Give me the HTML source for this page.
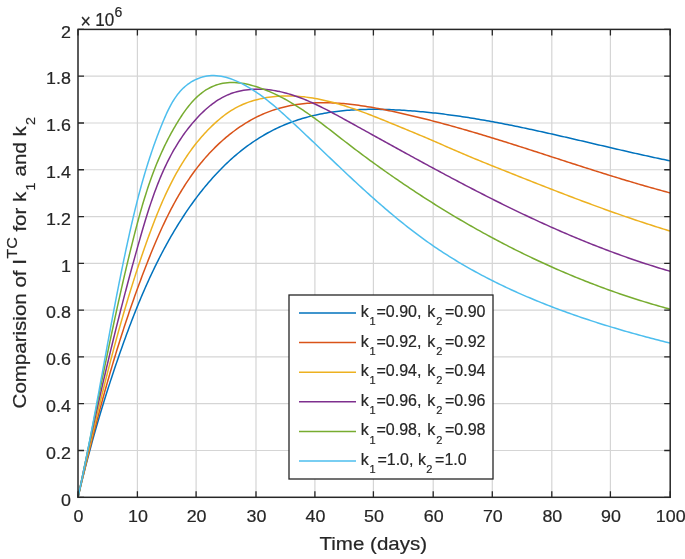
<!DOCTYPE html>
<html><head><meta charset="utf-8"><title>Comparision of I^TC</title>
<style>html,body{margin:0;padding:0;background:#fff;}svg{display:block;filter:blur(0.3px);}</style>
</head><body><svg width="685" height="559" viewBox="0 0 685 559" font-family='"Liberation Sans", Arial, Helvetica, sans-serif' fill="#262626"><style>text{stroke:#262626;stroke-width:0.2px;}</style><rect x="0" y="0" width="685" height="559" fill="#fff"/><path d="M137.40,29.4V497.3 M196.10,29.4V497.3 M256.00,29.4V497.3 M314.90,29.4V497.3 M373.40,29.4V497.3 M433.20,29.4V497.3 M492.30,29.4V497.3 M551.80,29.4V497.3 M610.40,29.4V497.3 M78.0,450.51H670.2 M78.0,403.72H670.2 M78.0,356.93H670.2 M78.0,310.14H670.2 M78.0,263.35H670.2 M78.0,216.56H670.2 M78.0,169.77H670.2 M78.0,122.98H670.2 M78.0,76.19H670.2" stroke="#d5d5d5" stroke-width="1.2" fill="none"/><path d="M78.00,497.30 L78.48,495.27 L78.96,493.25 L79.44,491.22 L79.93,489.19 L80.42,487.17 L80.91,485.14 L81.41,483.11 L81.90,481.09 L82.41,479.06 L82.91,477.04 L83.42,475.01 L83.93,472.99 L84.44,470.96 L84.96,468.94 L85.48,466.91 L86.00,464.89 L86.53,462.87 L87.06,460.85 L87.59,458.82 L88.12,456.80 L88.66,454.78 L89.20,452.76 L89.74,450.74 L90.29,448.72 L90.84,446.71 L91.39,444.69 L91.95,442.67 L92.51,440.66 L93.07,438.64 L93.63,436.63 L94.20,434.61 L94.77,432.60 L95.34,430.59 L95.92,428.58 L96.49,426.57 L97.08,424.56 L97.66,422.55 L98.25,420.54 L98.84,418.54 L99.43,416.53 L100.03,414.53 L100.62,412.52 L101.23,410.52 L101.83,408.52 L102.44,406.52 L103.05,404.52 L103.66,402.53 L104.28,400.53 L104.90,398.54 L105.52,396.54 L106.14,394.55 L106.77,392.56 L107.40,390.57 L108.03,388.58 L108.67,386.60 L109.31,384.61 L109.95,382.63 L110.59,380.64 L111.24,378.66 L111.89,376.68 L112.54,374.71 L113.20,372.73 L113.85,370.76 L114.52,368.78 L115.18,366.81 L115.85,364.84 L116.52,362.88 L117.19,360.91 L117.86,358.95 L118.54,356.98 L119.22,355.02 L119.90,353.07 L120.59,351.11 L121.28,349.15 L121.97,347.20 L122.66,345.25 L123.36,343.30 L124.06,341.35 L124.76,339.41 L125.47,337.47 L126.18,335.52 L126.89,333.58 L127.60,331.65 L128.32,329.71 L129.05,327.78 L129.77,325.84 L130.51,323.91 L131.24,321.99 L131.98,320.06 L132.73,318.13 L133.47,316.21 L134.23,314.29 L134.99,312.37 L135.75,310.45 L136.52,308.53 L137.29,306.61 L138.07,304.70 L138.86,302.79 L139.65,300.88 L140.45,298.97 L141.25,297.06 L142.06,295.15 L142.87,293.24 L143.69,291.34 L144.52,289.44 L145.36,287.54 L146.20,285.63 L147.05,283.74 L147.90,281.84 L148.76,279.94 L149.63,278.05 L150.51,276.15 L151.40,274.26 L152.29,272.37 L153.19,270.48 L154.10,268.59 L155.02,266.70 L155.94,264.81 L156.87,262.92 L157.82,261.04 L158.77,259.15 L159.73,257.27 L160.69,255.39 L161.67,253.51 L162.66,251.64 L163.65,249.76 L164.65,247.89 L165.66,246.02 L166.68,244.16 L167.71,242.30 L168.75,240.44 L169.80,238.59 L170.85,236.74 L171.92,234.90 L172.99,233.06 L174.08,231.22 L175.17,229.39 L176.27,227.57 L177.39,225.75 L178.51,223.93 L179.64,222.13 L180.78,220.33 L181.93,218.53 L183.08,216.75 L184.25,214.97 L185.43,213.19 L186.62,211.43 L187.82,209.67 L189.02,207.92 L190.24,206.18 L191.47,204.45 L192.70,202.72 L193.95,201.01 L195.21,199.30 L196.47,197.60 L197.75,195.92 L199.04,194.24 L200.33,192.57 L201.64,190.92 L202.96,189.27 L204.28,187.63 L205.62,186.01 L206.97,184.40 L208.33,182.79 L209.70,181.20 L211.08,179.63 L212.47,178.06 L213.87,176.51 L215.28,174.96 L216.70,173.44 L218.13,171.92 L219.57,170.42 L221.03,168.93 L222.49,167.46 L223.97,166.00 L225.46,164.55 L226.95,163.12 L228.46,161.71 L229.98,160.30 L231.51,158.92 L233.05,157.55 L234.61,156.19 L236.17,154.85 L237.75,153.53 L239.33,152.22 L240.93,150.94 L242.54,149.66 L244.16,148.41 L245.79,147.17 L247.44,145.95 L249.09,144.74 L250.76,143.56 L252.44,142.39 L254.13,141.25 L255.83,140.12 L257.54,139.01 L259.27,137.92 L261.01,136.84 L262.75,135.79 L264.52,134.76 L266.29,133.75 L268.07,132.76 L269.87,131.79 L271.68,130.84 L273.50,129.91 L275.34,129.00 L277.18,128.12 L279.04,127.25 L280.91,126.41 L282.79,125.59 L284.68,124.79 L286.59,124.01 L288.50,123.26 L290.42,122.52 L292.36,121.81 L294.30,121.12 L296.25,120.45 L298.21,119.80 L300.18,119.17 L302.16,118.56 L304.14,117.98 L306.14,117.42 L308.14,116.87 L310.14,116.35 L312.15,115.85 L314.17,115.37 L316.20,114.92 L318.23,114.48 L320.27,114.06 L322.31,113.67 L324.35,113.29 L326.40,112.93 L328.46,112.59 L330.52,112.28 L332.59,111.97 L334.65,111.69 L336.73,111.43 L338.80,111.18 L340.88,110.95 L342.97,110.74 L345.05,110.54 L347.14,110.36 L349.24,110.19 L351.33,110.04 L353.43,109.91 L355.53,109.79 L357.63,109.68 L359.74,109.59 L361.84,109.52 L363.95,109.45 L366.06,109.40 L368.17,109.36 L370.28,109.34 L372.39,109.32 L374.50,109.32 L376.61,109.33 L378.73,109.35 L380.84,109.38 L382.95,109.43 L385.06,109.48 L387.18,109.54 L389.29,109.61 L391.40,109.69 L393.50,109.78 L395.61,109.88 L397.72,109.99 L399.82,110.10 L401.92,110.22 L404.03,110.35 L406.12,110.49 L408.22,110.63 L410.32,110.78 L412.41,110.94 L414.50,111.10 L416.59,111.27 L418.68,111.45 L420.77,111.64 L422.86,111.83 L424.94,112.03 L427.02,112.24 L429.10,112.45 L431.18,112.67 L433.26,112.89 L435.34,113.12 L437.41,113.36 L439.49,113.60 L441.56,113.85 L443.63,114.11 L445.70,114.37 L447.77,114.64 L449.84,114.91 L451.90,115.19 L453.97,115.47 L456.03,115.76 L458.09,116.06 L460.16,116.36 L462.22,116.66 L464.27,116.97 L466.33,117.29 L468.39,117.61 L470.44,117.94 L472.50,118.27 L474.55,118.60 L476.60,118.94 L478.66,119.29 L480.71,119.64 L482.76,119.99 L484.81,120.35 L486.85,120.71 L488.90,121.08 L490.95,121.45 L492.99,121.82 L495.04,122.20 L497.08,122.58 L499.12,122.97 L501.16,123.36 L503.21,123.75 L505.25,124.15 L507.29,124.55 L509.33,124.96 L511.37,125.36 L513.40,125.77 L515.44,126.19 L517.48,126.60 L519.51,127.02 L521.55,127.45 L523.59,127.87 L525.62,128.30 L527.65,128.73 L529.69,129.17 L531.72,129.60 L533.76,130.04 L535.79,130.48 L537.82,130.93 L539.85,131.37 L541.88,131.82 L543.92,132.27 L545.95,132.72 L547.98,133.18 L550.01,133.63 L552.04,134.09 L554.07,134.55 L556.10,135.01 L558.13,135.47 L560.16,135.93 L562.19,136.40 L564.22,136.86 L566.25,137.33 L568.28,137.80 L570.31,138.27 L572.34,138.74 L574.37,139.21 L576.40,139.68 L578.43,140.16 L580.46,140.63 L582.49,141.10 L584.52,141.58 L586.55,142.05 L588.58,142.53 L590.61,143.00 L592.64,143.48 L594.67,143.95 L596.70,144.43 L598.74,144.90 L600.77,145.38 L602.80,145.85 L604.83,146.33 L606.87,146.80 L608.90,147.28 L610.93,147.75 L612.97,148.22 L615.00,148.69 L617.04,149.17 L619.08,149.64 L621.11,150.11 L623.15,150.57 L625.19,151.04 L627.22,151.51 L629.26,151.97 L631.30,152.43 L633.34,152.90 L635.38,153.36 L637.43,153.81 L639.47,154.27 L641.51,154.73 L643.55,155.18 L645.60,155.63 L647.64,156.08 L649.69,156.53 L651.74,156.97 L653.79,157.42 L655.84,157.86 L657.89,158.29 L659.94,158.73 L661.99,159.16 L664.04,159.59 L666.09,160.02 L668.15,160.45 L670.20,160.87" stroke="#0072BD" stroke-width="1.5" fill="none" stroke-linejoin="round"/><path d="M78.00,497.30 L78.50,495.17 L79.00,493.04 L79.51,490.92 L80.01,488.79 L80.52,486.67 L81.02,484.55 L81.53,482.43 L82.03,480.31 L82.54,478.19 L83.05,476.08 L83.56,473.97 L84.07,471.86 L84.58,469.74 L85.09,467.64 L85.61,465.53 L86.12,463.42 L86.63,461.32 L87.15,459.22 L87.67,457.12 L88.19,455.02 L88.71,452.92 L89.23,450.82 L89.75,448.73 L90.27,446.63 L90.80,444.54 L91.33,442.45 L91.85,440.36 L92.38,438.27 L92.91,436.18 L93.45,434.10 L93.98,432.01 L94.52,429.93 L95.05,427.85 L95.59,425.77 L96.13,423.69 L96.68,421.61 L97.22,419.53 L97.77,417.45 L98.32,415.38 L98.87,413.31 L99.42,411.23 L99.97,409.16 L100.53,407.09 L101.09,405.02 L101.65,402.96 L102.21,400.89 L102.77,398.82 L103.34,396.76 L103.91,394.70 L104.48,392.63 L105.06,390.57 L105.63,388.51 L106.21,386.45 L106.79,384.39 L107.37,382.34 L107.96,380.28 L108.55,378.22 L109.14,376.17 L109.73,374.11 L110.33,372.06 L110.93,370.01 L111.53,367.96 L112.13,365.91 L112.74,363.86 L113.35,361.81 L113.96,359.76 L114.58,357.72 L115.20,355.67 L115.82,353.62 L116.45,351.58 L117.07,349.54 L117.70,347.49 L118.34,345.45 L118.97,343.41 L119.61,341.37 L120.26,339.33 L120.91,337.29 L121.56,335.25 L122.21,333.21 L122.87,331.17 L123.53,329.14 L124.19,327.10 L124.86,325.06 L125.53,323.03 L126.20,320.99 L126.88,318.96 L127.56,316.93 L128.25,314.89 L128.93,312.86 L129.63,310.83 L130.32,308.80 L131.02,306.76 L131.73,304.73 L132.43,302.70 L133.15,300.67 L133.86,298.64 L134.58,296.62 L135.30,294.59 L136.03,292.56 L136.76,290.53 L137.50,288.50 L138.24,286.48 L138.98,284.45 L139.73,282.42 L140.49,280.40 L141.24,278.37 L142.01,276.34 L142.77,274.32 L143.54,272.29 L144.32,270.27 L145.10,268.24 L145.88,266.22 L146.67,264.19 L147.46,262.17 L148.26,260.14 L149.06,258.12 L149.87,256.10 L150.68,254.08 L151.50,252.06 L152.33,250.04 L153.16,248.02 L154.00,246.01 L154.84,244.00 L155.69,241.99 L156.55,239.98 L157.42,237.98 L158.29,235.98 L159.17,233.98 L160.06,231.99 L160.96,230.00 L161.86,228.02 L162.78,226.04 L163.70,224.06 L164.63,222.09 L165.58,220.13 L166.53,218.17 L167.49,216.22 L168.46,214.27 L169.44,212.33 L170.43,210.40 L171.44,208.47 L172.45,206.55 L173.48,204.64 L174.51,202.74 L175.56,200.84 L176.62,198.96 L177.69,197.08 L178.78,195.21 L179.88,193.34 L180.99,191.49 L182.11,189.65 L183.25,187.82 L184.40,185.99 L185.56,184.18 L186.74,182.38 L187.93,180.58 L189.14,178.80 L190.36,177.03 L191.59,175.28 L192.84,173.53 L194.11,171.79 L195.39,170.07 L196.69,168.36 L198.00,166.66 L199.33,164.98 L200.68,163.31 L202.04,161.65 L203.43,160.01 L204.82,158.38 L206.24,156.76 L207.67,155.16 L209.12,153.58 L210.59,152.00 L212.08,150.45 L213.58,148.91 L215.11,147.38 L216.65,145.87 L218.21,144.38 L219.79,142.91 L221.40,141.45 L223.02,140.01 L224.65,138.58 L226.31,137.18 L227.98,135.80 L229.68,134.43 L231.38,133.09 L233.11,131.77 L234.85,130.48 L236.60,129.20 L238.38,127.96 L240.16,126.73 L241.96,125.53 L243.78,124.36 L245.61,123.22 L247.45,122.10 L249.31,121.01 L251.17,119.95 L253.05,118.92 L254.94,117.92 L256.85,116.95 L258.76,116.01 L260.69,115.11 L262.62,114.24 L264.57,113.40 L266.52,112.60 L268.48,111.83 L270.46,111.10 L272.44,110.40 L274.43,109.74 L276.43,109.10 L278.43,108.51 L280.44,107.94 L282.47,107.41 L284.50,106.90 L286.53,106.43 L288.58,105.99 L290.63,105.58 L292.68,105.20 L294.75,104.85 L296.82,104.52 L298.89,104.23 L300.97,103.96 L303.06,103.72 L305.16,103.50 L307.25,103.31 L309.36,103.15 L311.47,103.01 L313.58,102.90 L315.70,102.81 L317.82,102.74 L319.95,102.70 L322.08,102.68 L324.21,102.68 L326.35,102.71 L328.49,102.75 L330.64,102.82 L332.78,102.90 L334.93,103.01 L337.09,103.13 L339.24,103.28 L341.40,103.44 L343.56,103.62 L345.72,103.82 L347.88,104.03 L350.05,104.26 L352.21,104.51 L354.38,104.77 L356.55,105.05 L358.71,105.34 L360.88,105.64 L363.05,105.96 L365.22,106.29 L367.39,106.64 L369.56,106.99 L371.72,107.36 L373.89,107.74 L376.06,108.13 L378.22,108.53 L380.38,108.94 L382.55,109.36 L384.71,109.78 L386.86,110.22 L389.02,110.66 L391.17,111.11 L393.32,111.57 L395.47,112.03 L397.62,112.50 L399.76,112.97 L401.90,113.45 L404.04,113.93 L406.17,114.42 L408.30,114.91 L410.42,115.40 L412.55,115.91 L414.67,116.41 L416.79,116.92 L418.90,117.44 L421.01,117.95 L423.12,118.48 L425.23,119.00 L427.33,119.53 L429.43,120.07 L431.53,120.61 L433.63,121.15 L435.72,121.70 L437.81,122.25 L439.90,122.80 L441.99,123.36 L444.07,123.92 L446.15,124.48 L448.23,125.05 L450.31,125.62 L452.39,126.20 L454.46,126.78 L456.53,127.36 L458.60,127.94 L460.67,128.53 L462.73,129.12 L464.80,129.71 L466.86,130.31 L468.92,130.91 L470.98,131.51 L473.04,132.11 L475.09,132.72 L477.15,133.33 L479.20,133.94 L481.25,134.56 L483.30,135.17 L485.35,135.79 L487.39,136.41 L489.44,137.04 L491.49,137.66 L493.53,138.29 L495.57,138.92 L497.61,139.55 L499.65,140.18 L501.69,140.82 L503.73,141.45 L505.77,142.09 L507.80,142.73 L509.84,143.37 L511.88,144.02 L513.91,144.66 L515.94,145.31 L517.98,145.95 L520.01,146.60 L522.04,147.25 L524.07,147.90 L526.11,148.55 L528.14,149.21 L530.17,149.86 L532.20,150.51 L534.23,151.17 L536.26,151.82 L538.29,152.48 L540.32,153.14 L542.35,153.79 L544.38,154.45 L546.41,155.11 L548.44,155.77 L550.47,156.43 L552.50,157.09 L554.53,157.75 L556.57,158.41 L558.60,159.06 L560.63,159.72 L562.66,160.38 L564.70,161.04 L566.73,161.70 L568.77,162.36 L570.80,163.02 L572.84,163.67 L574.87,164.33 L576.91,164.99 L578.95,165.64 L580.99,166.30 L583.03,166.95 L585.07,167.61 L587.11,168.26 L589.16,168.91 L591.20,169.56 L593.25,170.21 L595.29,170.86 L597.34,171.51 L599.39,172.15 L601.44,172.80 L603.49,173.44 L605.55,174.09 L607.60,174.73 L609.66,175.36 L611.72,176.00 L613.78,176.64 L615.84,177.27 L617.90,177.90 L619.97,178.53 L622.04,179.16 L624.11,179.79 L626.18,180.41 L628.25,181.03 L630.33,181.65 L632.40,182.27 L634.48,182.89 L636.57,183.50 L638.65,184.11 L640.74,184.72 L642.82,185.32 L644.92,185.93 L647.01,186.53 L649.11,187.12 L651.20,187.72 L653.30,188.31 L655.41,188.90 L657.52,189.48 L659.62,190.06 L661.74,190.64 L663.85,191.22 L665.97,191.79 L668.09,192.36 L670.21,192.93" stroke="#D95319" stroke-width="1.5" fill="none" stroke-linejoin="round"/><path d="M78.00,497.30 L78.51,495.10 L79.01,492.89 L79.52,490.69 L80.02,488.49 L80.53,486.29 L81.03,484.09 L81.53,481.90 L82.04,479.70 L82.54,477.50 L83.04,475.31 L83.55,473.12 L84.05,470.93 L84.55,468.74 L85.05,466.55 L85.56,464.36 L86.06,462.17 L86.56,459.98 L87.07,457.80 L87.57,455.61 L88.08,453.43 L88.58,451.25 L89.08,449.07 L89.59,446.89 L90.10,444.71 L90.60,442.53 L91.11,440.35 L91.62,438.18 L92.12,436.00 L92.63,433.83 L93.14,431.65 L93.65,429.48 L94.16,427.31 L94.68,425.14 L95.19,422.97 L95.70,420.80 L96.22,418.63 L96.73,416.46 L97.25,414.30 L97.77,412.13 L98.29,409.97 L98.81,407.81 L99.33,405.64 L99.85,403.48 L100.38,401.32 L100.91,399.16 L101.43,397.00 L101.96,394.84 L102.49,392.68 L103.03,390.53 L103.56,388.37 L104.10,386.21 L104.63,384.06 L105.17,381.91 L105.71,379.75 L106.26,377.60 L106.80,375.45 L107.35,373.30 L107.90,371.15 L108.45,369.00 L109.00,366.85 L109.56,364.70 L110.11,362.55 L110.67,360.40 L111.24,358.26 L111.80,356.11 L112.37,353.97 L112.94,351.82 L113.51,349.68 L114.08,347.54 L114.66,345.39 L115.24,343.25 L115.82,341.11 L116.40,338.97 L116.99,336.83 L117.58,334.69 L118.18,332.55 L118.77,330.41 L119.37,328.27 L119.97,326.14 L120.58,324.00 L121.18,321.86 L121.79,319.73 L122.41,317.59 L123.03,315.46 L123.65,313.32 L124.27,311.19 L124.90,309.06 L125.53,306.92 L126.16,304.79 L126.80,302.66 L127.44,300.53 L128.08,298.40 L128.73,296.27 L129.38,294.14 L130.04,292.01 L130.70,289.88 L131.36,287.75 L132.03,285.62 L132.70,283.49 L133.37,281.36 L134.05,279.23 L134.73,277.11 L135.42,274.98 L136.11,272.85 L136.81,270.73 L137.50,268.60 L138.21,266.48 L138.92,264.35 L139.63,262.23 L140.34,260.10 L141.06,257.98 L141.79,255.85 L142.52,253.73 L143.25,251.60 L143.99,249.48 L144.73,247.36 L145.48,245.23 L146.23,243.11 L146.99,240.99 L147.75,238.87 L148.52,236.74 L149.29,234.62 L150.07,232.50 L150.86,230.39 L151.65,228.27 L152.45,226.15 L153.25,224.04 L154.06,221.93 L154.88,219.83 L155.71,217.72 L156.54,215.62 L157.39,213.53 L158.24,211.44 L159.10,209.35 L159.97,207.27 L160.85,205.20 L161.74,203.13 L162.64,201.06 L163.55,199.00 L164.48,196.95 L165.41,194.91 L166.36,192.87 L167.31,190.84 L168.28,188.82 L169.27,186.81 L170.26,184.81 L171.27,182.81 L172.29,180.83 L173.32,178.85 L174.37,176.88 L175.44,174.93 L176.51,172.98 L177.61,171.05 L178.72,169.12 L179.84,167.21 L180.98,165.31 L182.14,163.43 L183.31,161.55 L184.50,159.69 L185.70,157.84 L186.93,156.00 L188.17,154.18 L189.43,152.37 L190.71,150.58 L192.00,148.80 L193.32,147.04 L194.65,145.29 L196.01,143.56 L197.38,141.85 L198.78,140.15 L200.19,138.46 L201.63,136.80 L203.08,135.15 L204.56,133.52 L206.06,131.91 L207.58,130.32 L209.13,128.74 L210.69,127.19 L212.28,125.65 L213.90,124.13 L215.53,122.64 L217.20,121.16 L218.88,119.71 L220.59,118.28 L222.33,116.89 L224.09,115.53 L225.87,114.20 L227.68,112.91 L229.52,111.66 L231.39,110.46 L233.28,109.31 L235.20,108.20 L237.15,107.15 L239.13,106.15 L241.13,105.20 L243.15,104.30 L245.20,103.46 L247.26,102.66 L249.35,101.91 L251.46,101.21 L253.58,100.56 L255.71,99.96 L257.87,99.40 L260.03,98.88 L262.20,98.41 L264.39,97.98 L266.58,97.60 L268.78,97.26 L270.98,96.95 L273.19,96.69 L275.40,96.47 L277.61,96.29 L279.82,96.15 L282.03,96.04 L284.24,95.97 L286.44,95.93 L288.65,95.94 L290.85,95.97 L293.05,96.04 L295.25,96.14 L297.44,96.28 L299.63,96.44 L301.82,96.64 L304.01,96.87 L306.20,97.13 L308.38,97.41 L310.57,97.73 L312.75,98.07 L314.92,98.44 L317.10,98.83 L319.27,99.25 L321.44,99.69 L323.61,100.16 L325.78,100.65 L327.94,101.16 L330.10,101.70 L332.26,102.26 L334.41,102.83 L336.57,103.43 L338.72,104.04 L340.86,104.68 L343.01,105.33 L345.15,105.99 L347.29,106.67 L349.43,107.37 L351.56,108.09 L353.69,108.81 L355.82,109.55 L357.95,110.30 L360.07,111.07 L362.19,111.84 L364.31,112.63 L366.42,113.42 L368.53,114.22 L370.64,115.04 L372.74,115.86 L374.85,116.68 L376.94,117.51 L379.04,118.35 L381.13,119.19 L383.22,120.04 L385.31,120.89 L387.39,121.74 L389.47,122.59 L391.55,123.44 L393.62,124.30 L395.69,125.15 L397.76,126.00 L399.82,126.85 L401.88,127.70 L403.93,128.55 L405.99,129.39 L408.04,130.24 L410.09,131.08 L412.13,131.93 L414.17,132.77 L416.21,133.62 L418.25,134.47 L420.29,135.32 L422.32,136.17 L424.35,137.03 L426.38,137.89 L428.41,138.75 L430.44,139.62 L432.47,140.50 L434.50,141.38 L436.52,142.26 L438.55,143.15 L440.57,144.04 L442.60,144.93 L444.63,145.83 L446.66,146.72 L448.69,147.62 L450.72,148.51 L452.75,149.40 L454.79,150.29 L456.83,151.18 L458.88,152.06 L460.92,152.93 L462.97,153.80 L465.03,154.67 L467.08,155.53 L469.14,156.39 L471.20,157.25 L473.27,158.10 L475.33,158.96 L477.40,159.80 L479.47,160.65 L481.54,161.49 L483.61,162.33 L485.68,163.17 L487.76,164.01 L489.83,164.84 L491.91,165.68 L493.98,166.51 L496.06,167.34 L498.14,168.17 L500.22,169.00 L502.30,169.83 L504.37,170.66 L506.45,171.49 L508.53,172.32 L510.61,173.14 L512.69,173.97 L514.77,174.80 L516.85,175.63 L518.92,176.45 L521.00,177.28 L523.08,178.10 L525.16,178.92 L527.24,179.75 L529.32,180.57 L531.40,181.39 L533.48,182.21 L535.56,183.03 L537.64,183.85 L539.72,184.66 L541.80,185.48 L543.88,186.29 L545.96,187.11 L548.04,187.92 L550.12,188.73 L552.21,189.54 L554.29,190.35 L556.37,191.15 L558.46,191.96 L560.54,192.76 L562.63,193.56 L564.71,194.36 L566.80,195.16 L568.89,195.96 L570.97,196.75 L573.06,197.54 L575.15,198.33 L577.24,199.12 L579.33,199.91 L581.42,200.69 L583.51,201.48 L585.61,202.26 L587.70,203.03 L589.79,203.81 L591.89,204.58 L593.98,205.35 L596.08,206.12 L598.18,206.89 L600.28,207.65 L602.38,208.41 L604.48,209.17 L606.58,209.92 L608.68,210.68 L610.78,211.43 L612.89,212.17 L615.00,212.92 L617.10,213.66 L619.21,214.39 L621.32,215.13 L623.43,215.86 L625.54,216.59 L627.65,217.31 L629.77,218.04 L631.88,218.75 L634.00,219.47 L636.12,220.18 L638.24,220.89 L640.36,221.60 L642.48,222.30 L644.60,222.99 L646.73,223.69 L648.85,224.38 L650.98,225.07 L653.11,225.75 L655.24,226.43 L657.37,227.10 L659.51,227.77 L661.64,228.44 L663.78,229.10 L665.92,229.76 L668.06,230.42 L670.20,231.07" stroke="#EDB120" stroke-width="1.5" fill="none" stroke-linejoin="round"/><path d="M78.00,497.30 L78.48,494.99 L78.97,492.69 L79.45,490.38 L79.93,488.08 L80.41,485.78 L80.90,483.48 L81.38,481.18 L81.86,478.89 L82.35,476.60 L82.83,474.31 L83.32,472.02 L83.80,469.73 L84.29,467.45 L84.78,465.16 L85.26,462.88 L85.75,460.60 L86.24,458.32 L86.73,456.05 L87.21,453.77 L87.70,451.50 L88.19,449.23 L88.69,446.96 L89.18,444.69 L89.67,442.42 L90.16,440.16 L90.65,437.90 L91.15,435.63 L91.64,433.37 L92.14,431.11 L92.64,428.85 L93.13,426.60 L93.63,424.34 L94.13,422.09 L94.63,419.83 L95.13,417.58 L95.63,415.33 L96.13,413.08 L96.64,410.83 L97.14,408.59 L97.65,406.34 L98.15,404.09 L98.66,401.85 L99.17,399.61 L99.68,397.36 L100.19,395.12 L100.70,392.88 L101.22,390.64 L101.73,388.40 L102.25,386.16 L102.76,383.92 L103.28,381.69 L103.80,379.45 L104.32,377.21 L104.84,374.98 L105.37,372.74 L105.89,370.51 L106.42,368.28 L106.94,366.04 L107.47,363.81 L108.00,361.58 L108.54,359.35 L109.07,357.11 L109.60,354.88 L110.14,352.65 L110.68,350.42 L111.22,348.19 L111.76,345.96 L112.30,343.73 L112.84,341.50 L113.39,339.27 L113.94,337.04 L114.49,334.81 L115.04,332.58 L115.59,330.35 L116.14,328.13 L116.70,325.90 L117.26,323.67 L117.82,321.44 L118.38,319.21 L118.94,316.98 L119.51,314.75 L120.08,312.52 L120.64,310.29 L121.22,308.05 L121.79,305.82 L122.36,303.59 L122.94,301.36 L123.52,299.13 L124.10,296.89 L124.68,294.66 L125.27,292.43 L125.86,290.19 L126.45,287.96 L127.04,285.72 L127.63,283.48 L128.23,281.25 L128.83,279.01 L129.43,276.77 L130.03,274.53 L130.64,272.29 L131.24,270.05 L131.85,267.81 L132.46,265.57 L133.08,263.33 L133.70,261.08 L134.32,258.84 L134.94,256.59 L135.56,254.34 L136.19,252.10 L136.82,249.85 L137.45,247.60 L138.08,245.34 L138.72,243.09 L139.36,240.84 L140.00,238.58 L140.65,236.33 L141.30,234.07 L141.95,231.81 L142.61,229.56 L143.27,227.30 L143.94,225.05 L144.61,222.79 L145.29,220.54 L145.97,218.29 L146.67,216.05 L147.37,213.80 L148.08,211.56 L148.79,209.32 L149.52,207.09 L150.25,204.86 L151.00,202.63 L151.75,200.41 L152.52,198.19 L153.30,195.98 L154.09,193.78 L154.89,191.58 L155.70,189.39 L156.53,187.20 L157.37,185.03 L158.22,182.86 L159.09,180.70 L159.97,178.54 L160.87,176.40 L161.78,174.26 L162.71,172.14 L163.66,170.02 L164.62,167.92 L165.60,165.82 L166.60,163.74 L167.61,161.67 L168.65,159.61 L169.70,157.56 L170.78,155.52 L171.87,153.50 L172.99,151.49 L174.12,149.49 L175.28,147.51 L176.46,145.54 L177.66,143.58 L178.88,141.64 L180.13,139.72 L181.40,137.81 L182.70,135.92 L184.02,134.04 L185.36,132.18 L186.74,130.34 L188.13,128.51 L189.56,126.70 L191.01,124.91 L192.48,123.14 L193.99,121.39 L195.52,119.66 L197.08,117.94 L198.67,116.25 L200.29,114.58 L201.94,112.95 L203.62,111.34 L205.33,109.77 L207.07,108.23 L208.84,106.74 L210.63,105.28 L212.46,103.88 L214.32,102.52 L216.21,101.22 L218.14,99.97 L220.09,98.79 L222.07,97.66 L224.09,96.60 L226.14,95.60 L228.22,94.68 L230.33,93.83 L232.47,93.06 L234.65,92.36 L236.85,91.74 L239.07,91.19 L241.31,90.71 L243.57,90.29 L245.85,89.95 L248.14,89.66 L250.43,89.45 L252.73,89.29 L255.03,89.19 L257.33,89.15 L259.63,89.17 L261.92,89.24 L264.20,89.37 L266.48,89.55 L268.74,89.77 L270.99,90.05 L273.23,90.37 L275.47,90.74 L277.69,91.16 L279.91,91.61 L282.12,92.11 L284.32,92.65 L286.51,93.23 L288.69,93.85 L290.87,94.51 L293.04,95.20 L295.20,95.92 L297.36,96.68 L299.51,97.47 L301.65,98.28 L303.79,99.13 L305.92,100.00 L308.04,100.90 L310.16,101.83 L312.28,102.77 L314.39,103.74 L316.49,104.73 L318.59,105.74 L320.69,106.77 L322.78,107.81 L324.87,108.87 L326.95,109.94 L329.03,111.02 L331.11,112.12 L333.18,113.22 L335.25,114.34 L337.32,115.46 L339.39,116.58 L341.45,117.71 L343.52,118.85 L345.58,119.98 L347.64,121.12 L349.70,122.25 L351.75,123.39 L353.81,124.52 L355.86,125.65 L357.92,126.79 L359.97,127.92 L362.02,129.06 L364.07,130.19 L366.12,131.32 L368.16,132.45 L370.21,133.59 L372.26,134.72 L374.30,135.85 L376.34,136.98 L378.39,138.11 L380.43,139.24 L382.47,140.37 L384.51,141.49 L386.55,142.62 L388.59,143.75 L390.63,144.87 L392.67,146.00 L394.70,147.12 L396.74,148.24 L398.78,149.36 L400.81,150.48 L402.85,151.60 L404.88,152.72 L406.92,153.84 L408.95,154.95 L410.98,156.07 L413.02,157.18 L415.05,158.29 L417.08,159.40 L419.12,160.51 L421.15,161.62 L423.18,162.73 L425.22,163.83 L427.25,164.93 L429.28,166.04 L431.31,167.14 L433.35,168.23 L435.38,169.33 L437.41,170.43 L439.45,171.52 L441.48,172.61 L443.51,173.70 L445.55,174.79 L447.58,175.87 L449.62,176.96 L451.65,178.04 L453.69,179.12 L455.73,180.19 L457.76,181.27 L459.80,182.34 L461.84,183.41 L463.88,184.48 L465.92,185.55 L467.96,186.61 L470.00,187.67 L472.04,188.73 L474.08,189.79 L476.13,190.84 L478.17,191.89 L480.21,192.94 L482.26,193.99 L484.31,195.03 L486.36,196.08 L488.40,197.11 L490.45,198.15 L492.51,199.18 L494.56,200.21 L496.61,201.24 L498.67,202.26 L500.72,203.29 L502.78,204.30 L504.84,205.32 L506.90,206.33 L508.96,207.34 L511.02,208.35 L513.09,209.35 L515.15,210.35 L517.22,211.34 L519.29,212.34 L521.36,213.33 L523.43,214.31 L525.51,215.30 L527.58,216.28 L529.66,217.25 L531.74,218.22 L533.82,219.19 L535.91,220.16 L537.99,221.12 L540.08,222.08 L542.17,223.03 L544.26,223.98 L546.35,224.93 L548.45,225.87 L550.54,226.81 L552.64,227.74 L554.75,228.68 L556.85,229.60 L558.96,230.52 L561.06,231.44 L563.17,232.36 L565.29,233.27 L567.40,234.17 L569.52,235.08 L571.64,235.97 L573.77,236.87 L575.89,237.76 L578.02,238.64 L580.15,239.52 L582.28,240.40 L584.42,241.27 L586.56,242.14 L588.70,243.00 L590.85,243.86 L592.99,244.71 L595.14,245.56 L597.30,246.40 L599.45,247.24 L601.61,248.07 L603.77,248.90 L605.94,249.72 L608.11,250.54 L610.28,251.36 L612.45,252.17 L614.63,252.97 L616.81,253.77 L619.00,254.56 L621.18,255.35 L623.37,256.14 L625.57,256.91 L627.77,257.69 L629.97,258.45 L632.17,259.22 L634.38,259.97 L636.59,260.72 L638.81,261.47 L641.02,262.21 L643.25,262.94 L645.47,263.67 L647.70,264.40 L649.94,265.12 L652.17,265.83 L654.42,266.53 L656.66,267.23 L658.91,267.93 L661.16,268.62 L663.42,269.30 L665.68,269.98 L667.95,270.65 L670.21,271.31" stroke="#7E2F8E" stroke-width="1.5" fill="none" stroke-linejoin="round"/><path d="M78.00,497.30 L78.50,494.95 L79.00,492.61 L79.50,490.26 L80.00,487.91 L80.49,485.56 L80.99,483.21 L81.48,480.86 L81.98,478.51 L82.47,476.16 L82.96,473.81 L83.45,471.46 L83.93,469.10 L84.42,466.75 L84.91,464.40 L85.39,462.05 L85.88,459.69 L86.36,457.34 L86.84,454.98 L87.32,452.63 L87.80,450.28 L88.28,447.92 L88.76,445.57 L89.24,443.21 L89.72,440.86 L90.20,438.50 L90.68,436.14 L91.15,433.79 L91.63,431.43 L92.11,429.08 L92.58,426.72 L93.06,424.36 L93.53,422.01 L94.01,419.65 L94.48,417.29 L94.96,414.94 L95.43,412.58 L95.91,410.22 L96.38,407.87 L96.86,405.51 L97.33,403.15 L97.81,400.79 L98.29,398.44 L98.76,396.08 L99.24,393.72 L99.71,391.37 L100.19,389.01 L100.67,386.65 L101.14,384.30 L101.62,381.94 L102.10,379.59 L102.58,377.23 L103.06,374.87 L103.54,372.52 L104.02,370.16 L104.50,367.81 L104.98,365.45 L105.47,363.10 L105.95,360.74 L106.44,358.39 L106.92,356.04 L107.41,353.68 L107.90,351.33 L108.39,348.98 L108.88,346.62 L109.37,344.27 L109.86,341.92 L110.35,339.57 L110.85,337.22 L111.34,334.86 L111.84,332.51 L112.34,330.16 L112.84,327.81 L113.34,325.47 L113.84,323.12 L114.35,320.77 L114.85,318.42 L115.36,316.07 L115.87,313.73 L116.38,311.38 L116.89,309.04 L117.41,306.69 L117.93,304.35 L118.44,302.00 L118.96,299.66 L119.49,297.32 L120.01,294.97 L120.54,292.63 L121.06,290.29 L121.60,287.95 L122.13,285.61 L122.66,283.27 L123.20,280.94 L123.74,278.60 L124.28,276.26 L124.82,273.93 L125.37,271.59 L125.92,269.26 L126.47,266.92 L127.02,264.59 L127.58,262.26 L128.14,259.93 L128.70,257.60 L129.27,255.27 L129.83,252.94 L130.40,250.61 L130.97,248.29 L131.55,245.96 L132.13,243.64 L132.71,241.31 L133.29,238.99 L133.88,236.67 L134.47,234.35 L135.07,232.03 L135.67,229.71 L136.27,227.39 L136.88,225.08 L137.50,222.76 L138.12,220.45 L138.75,218.14 L139.38,215.84 L140.02,213.53 L140.67,211.23 L141.33,208.93 L142.00,206.63 L142.67,204.33 L143.36,202.04 L144.05,199.75 L144.75,197.46 L145.47,195.18 L146.19,192.90 L146.93,190.62 L147.68,188.35 L148.44,186.08 L149.21,183.81 L149.99,181.55 L150.79,179.29 L151.60,177.03 L152.43,174.78 L153.27,172.53 L154.13,170.29 L155.00,168.05 L155.88,165.82 L156.78,163.59 L157.70,161.37 L158.64,159.15 L159.59,156.93 L160.56,154.72 L161.55,152.52 L162.55,150.32 L163.58,148.12 L164.62,145.94 L165.69,143.75 L166.77,141.58 L167.87,139.41 L169.00,137.24 L170.14,135.08 L171.31,132.93 L172.50,130.79 L173.71,128.65 L174.95,126.51 L176.20,124.39 L177.49,122.27 L178.79,120.16 L180.12,118.06 L181.48,115.98 L182.87,113.92 L184.28,111.89 L185.73,109.89 L187.20,107.92 L188.72,106.00 L190.26,104.12 L191.84,102.29 L193.46,100.51 L195.12,98.80 L196.81,97.14 L198.55,95.56 L200.33,94.04 L202.15,92.61 L204.02,91.25 L205.93,89.98 L207.89,88.80 L209.90,87.72 L211.96,86.73 L214.06,85.85 L216.21,85.07 L218.40,84.38 L220.62,83.81 L222.87,83.33 L225.15,82.96 L227.45,82.69 L229.78,82.53 L232.12,82.47 L234.47,82.52 L236.84,82.65 L239.22,82.88 L241.60,83.19 L243.98,83.59 L246.36,84.05 L248.74,84.59 L251.12,85.19 L253.48,85.85 L255.84,86.56 L258.18,87.32 L260.50,88.12 L262.80,88.96 L265.08,89.83 L267.34,90.74 L269.58,91.67 L271.80,92.64 L274.00,93.64 L276.18,94.66 L278.34,95.72 L280.49,96.80 L282.62,97.90 L284.73,99.03 L286.82,100.19 L288.90,101.37 L290.97,102.57 L293.02,103.79 L295.06,105.04 L297.08,106.30 L299.09,107.58 L301.09,108.88 L303.08,110.20 L305.06,111.54 L307.03,112.89 L308.99,114.25 L310.94,115.63 L312.89,117.02 L314.82,118.42 L316.75,119.83 L318.68,121.26 L320.59,122.69 L322.50,124.13 L324.41,125.58 L326.32,127.03 L328.22,128.49 L330.12,129.96 L332.01,131.43 L333.91,132.90 L335.80,134.37 L337.69,135.85 L339.59,137.32 L341.48,138.80 L343.38,140.27 L345.28,141.74 L347.18,143.21 L349.09,144.67 L350.99,146.13 L352.91,147.59 L354.82,149.04 L356.74,150.49 L358.66,151.93 L360.58,153.37 L362.51,154.81 L364.44,156.24 L366.37,157.67 L368.30,159.10 L370.24,160.52 L372.19,161.93 L374.13,163.35 L376.08,164.76 L378.03,166.16 L379.98,167.56 L381.94,168.96 L383.90,170.35 L385.86,171.74 L387.83,173.12 L389.80,174.51 L391.77,175.88 L393.74,177.25 L395.72,178.62 L397.70,179.98 L399.69,181.34 L401.67,182.70 L403.66,184.05 L405.66,185.39 L407.65,186.73 L409.65,188.07 L411.65,189.40 L413.66,190.73 L415.67,192.05 L417.68,193.37 L419.69,194.69 L421.71,196.00 L423.73,197.30 L425.75,198.60 L427.77,199.90 L429.80,201.19 L431.83,202.48 L433.87,203.76 L435.91,205.03 L437.95,206.31 L439.99,207.57 L442.04,208.84 L444.09,210.09 L446.14,211.35 L448.19,212.59 L450.25,213.84 L452.31,215.08 L454.37,216.31 L456.44,217.54 L458.51,218.76 L460.58,219.98 L462.66,221.19 L464.74,222.40 L466.82,223.60 L468.90,224.80 L470.99,225.99 L473.08,227.18 L475.17,228.36 L477.27,229.54 L479.36,230.71 L481.47,231.88 L483.57,233.04 L485.68,234.19 L487.79,235.34 L489.90,236.49 L492.01,237.63 L494.13,238.76 L496.25,239.89 L498.38,241.01 L500.51,242.13 L502.64,243.24 L504.77,244.35 L506.90,245.45 L509.04,246.55 L511.18,247.64 L513.33,248.72 L515.47,249.80 L517.62,250.87 L519.77,251.94 L521.93,253.00 L524.09,254.06 L526.25,255.11 L528.41,256.15 L530.58,257.19 L532.75,258.22 L534.92,259.25 L537.09,260.27 L539.27,261.28 L541.45,262.29 L543.63,263.29 L545.82,264.29 L548.01,265.28 L550.20,266.27 L552.39,267.25 L554.59,268.22 L556.79,269.19 L558.99,270.15 L561.20,271.10 L563.41,272.05 L565.62,272.99 L567.83,273.93 L570.05,274.85 L572.26,275.78 L574.49,276.69 L576.71,277.60 L578.94,278.51 L581.17,279.41 L583.40,280.30 L585.63,281.18 L587.87,282.06 L590.11,282.93 L592.35,283.80 L594.60,284.66 L596.85,285.51 L599.10,286.36 L601.35,287.19 L603.61,288.03 L605.87,288.85 L608.13,289.67 L610.40,290.49 L612.66,291.29 L614.93,292.09 L617.21,292.88 L619.48,293.67 L621.76,294.45 L624.04,295.22 L626.32,295.98 L628.61,296.74 L630.90,297.49 L633.19,298.24 L635.48,298.98 L637.78,299.71 L640.08,300.43 L642.38,301.15 L644.69,301.86 L646.99,302.56 L649.30,303.25 L651.62,303.94 L653.93,304.62 L656.25,305.30 L658.57,305.96 L660.89,306.62 L663.22,307.28 L665.54,307.92 L667.87,308.56 L670.21,309.19" stroke="#77AC30" stroke-width="1.5" fill="none" stroke-linejoin="round"/><path d="M78.00,497.30 L78.53,494.87 L79.06,492.43 L79.59,490.00 L80.11,487.56 L80.63,485.12 L81.15,482.68 L81.67,480.24 L82.18,477.80 L82.69,475.35 L83.20,472.91 L83.70,470.47 L84.20,468.02 L84.70,465.57 L85.20,463.12 L85.69,460.67 L86.18,458.22 L86.67,455.77 L87.16,453.32 L87.65,450.87 L88.13,448.41 L88.61,445.96 L89.09,443.50 L89.57,441.05 L90.05,438.59 L90.52,436.13 L90.99,433.68 L91.46,431.22 L91.93,428.76 L92.40,426.30 L92.87,423.84 L93.33,421.38 L93.80,418.91 L94.26,416.45 L94.72,413.99 L95.18,411.53 L95.64,409.06 L96.10,406.60 L96.55,404.13 L97.01,401.67 L97.47,399.20 L97.92,396.74 L98.37,394.27 L98.83,391.81 L99.28,389.34 L99.73,386.87 L100.18,384.41 L100.63,381.94 L101.08,379.47 L101.54,377.01 L101.99,374.54 L102.44,372.07 L102.89,369.61 L103.34,367.14 L103.79,364.67 L104.24,362.20 L104.69,359.74 L105.14,357.27 L105.59,354.80 L106.04,352.34 L106.49,349.87 L106.94,347.40 L107.39,344.94 L107.85,342.47 L108.30,340.01 L108.75,337.54 L109.21,335.08 L109.66,332.61 L110.12,330.15 L110.58,327.68 L111.04,325.22 L111.50,322.76 L111.96,320.30 L112.42,317.83 L112.88,315.37 L113.35,312.91 L113.81,310.45 L114.28,307.99 L114.75,305.53 L115.22,303.07 L115.69,300.62 L116.16,298.16 L116.64,295.70 L117.11,293.25 L117.59,290.79 L118.07,288.34 L118.56,285.89 L119.04,283.44 L119.53,280.98 L120.02,278.53 L120.51,276.08 L121.00,273.64 L121.50,271.19 L121.99,268.74 L122.49,266.30 L123.00,263.85 L123.50,261.41 L124.01,258.97 L124.52,256.53 L125.04,254.09 L125.55,251.65 L126.07,249.21 L126.59,246.77 L127.12,244.34 L127.65,241.91 L128.18,239.47 L128.71,237.04 L129.25,234.61 L129.79,232.18 L130.34,229.76 L130.89,227.33 L131.44,224.91 L132.00,222.48 L132.57,220.06 L133.14,217.64 L133.71,215.22 L134.29,212.80 L134.88,210.39 L135.47,207.97 L136.07,205.56 L136.68,203.15 L137.29,200.73 L137.91,198.32 L138.54,195.91 L139.17,193.51 L139.81,191.10 L140.46,188.69 L141.12,186.29 L141.79,183.89 L142.47,181.49 L143.15,179.08 L143.85,176.69 L144.55,174.29 L145.27,171.89 L145.99,169.49 L146.73,167.10 L147.47,164.71 L148.23,162.31 L149.00,159.92 L149.77,157.53 L150.56,155.14 L151.36,152.76 L152.18,150.37 L153.00,147.98 L153.84,145.60 L154.69,143.22 L155.56,140.83 L156.43,138.45 L157.32,136.07 L158.23,133.70 L159.15,131.32 L160.08,128.94 L161.03,126.57 L161.99,124.19 L162.96,121.82 L163.96,119.45 L164.97,117.09 L166.01,114.74 L167.07,112.41 L168.17,110.11 L169.31,107.83 L170.49,105.59 L171.71,103.39 L172.98,101.23 L174.30,99.12 L175.68,97.07 L177.12,95.08 L178.62,93.16 L180.19,91.31 L181.84,89.53 L183.56,87.84 L185.36,86.23 L187.24,84.71 L189.21,83.29 L191.24,81.97 L193.34,80.77 L195.49,79.67 L197.69,78.69 L199.94,77.83 L202.23,77.10 L204.55,76.51 L206.89,76.05 L209.25,75.74 L211.62,75.57 L213.99,75.55 L216.38,75.66 L218.76,75.89 L221.15,76.25 L223.54,76.73 L225.92,77.31 L228.29,77.99 L230.66,78.77 L233.01,79.63 L235.35,80.58 L237.68,81.60 L239.99,82.68 L242.27,83.83 L244.53,85.03 L246.77,86.28 L248.98,87.58 L251.15,88.90 L253.30,90.26 L255.41,91.64 L257.50,93.06 L259.56,94.49 L261.59,95.96 L263.60,97.45 L265.59,98.96 L267.56,100.49 L269.51,102.04 L271.43,103.61 L273.35,105.20 L275.24,106.80 L277.12,108.42 L278.99,110.06 L280.85,111.70 L282.70,113.36 L284.54,115.02 L286.38,116.70 L288.20,118.38 L290.03,120.07 L291.85,121.76 L293.67,123.46 L295.49,125.16 L297.31,126.86 L299.13,128.57 L300.94,130.28 L302.76,131.99 L304.57,133.71 L306.39,135.43 L308.20,137.15 L310.01,138.87 L311.83,140.60 L313.64,142.32 L315.45,144.05 L317.26,145.78 L319.07,147.51 L320.89,149.24 L322.70,150.98 L324.51,152.71 L326.33,154.44 L328.14,156.17 L329.96,157.91 L331.78,159.64 L333.59,161.37 L335.41,163.10 L337.24,164.83 L339.06,166.56 L340.88,168.29 L342.71,170.01 L344.54,171.74 L346.37,173.46 L348.20,175.18 L350.03,176.90 L351.87,178.61 L353.71,180.33 L355.55,182.04 L357.40,183.74 L359.24,185.45 L361.09,187.14 L362.95,188.84 L364.81,190.53 L366.67,192.22 L368.53,193.90 L370.40,195.58 L372.27,197.25 L374.15,198.92 L376.03,200.58 L377.91,202.24 L379.80,203.89 L381.69,205.54 L383.59,207.18 L385.49,208.81 L387.39,210.44 L389.31,212.06 L391.22,213.67 L393.14,215.28 L395.07,216.88 L397.00,218.47 L398.94,220.05 L400.88,221.63 L402.83,223.20 L404.79,224.76 L406.75,226.31 L408.72,227.85 L410.69,229.38 L412.67,230.91 L414.66,232.42 L416.65,233.93 L418.65,235.42 L420.66,236.91 L422.67,238.38 L424.69,239.85 L426.72,241.30 L428.75,242.75 L430.80,244.18 L432.85,245.60 L434.91,247.01 L436.97,248.41 L439.05,249.80 L441.13,251.18 L443.21,252.54 L445.31,253.89 L447.41,255.24 L449.52,256.57 L451.64,257.89 L453.77,259.20 L455.90,260.50 L458.04,261.79 L460.18,263.07 L462.33,264.34 L464.49,265.60 L466.66,266.84 L468.83,268.08 L471.01,269.31 L473.19,270.52 L475.38,271.73 L477.58,272.93 L479.78,274.11 L481.99,275.29 L484.20,276.45 L486.42,277.61 L488.64,278.76 L490.87,279.89 L493.11,281.02 L495.35,282.14 L497.60,283.25 L499.85,284.35 L502.11,285.44 L504.37,286.52 L506.64,287.59 L508.91,288.65 L511.19,289.70 L513.47,290.75 L515.76,291.78 L518.05,292.81 L520.34,293.83 L522.64,294.84 L524.95,295.84 L527.25,296.83 L529.57,297.81 L531.88,298.79 L534.20,299.75 L536.53,300.71 L538.85,301.66 L541.19,302.60 L543.52,303.53 L545.86,304.46 L548.20,305.38 L550.55,306.29 L552.90,307.19 L555.25,308.08 L557.60,308.97 L559.96,309.85 L562.32,310.72 L564.69,311.58 L567.05,312.43 L569.42,313.28 L571.79,314.12 L574.17,314.96 L576.54,315.78 L578.92,316.60 L581.30,317.42 L583.69,318.22 L586.07,319.02 L588.46,319.81 L590.85,320.60 L593.24,321.37 L595.63,322.15 L598.03,322.91 L600.42,323.67 L602.82,324.42 L605.22,325.17 L607.62,325.90 L610.02,326.64 L612.42,327.36 L614.83,328.08 L617.23,328.80 L619.64,329.51 L622.04,330.21 L624.45,330.91 L626.86,331.60 L629.26,332.28 L631.67,332.96 L634.08,333.64 L636.49,334.31 L638.90,334.97 L641.31,335.63 L643.72,336.28 L646.13,336.93 L648.54,337.57 L650.95,338.20 L653.35,338.84 L655.76,339.46 L658.17,340.08 L660.58,340.70 L662.98,341.31 L665.39,341.92 L667.79,342.52 L670.20,343.12" stroke="#4DBEEE" stroke-width="1.5" fill="none" stroke-linejoin="round"/><path d="M78.00,497.3v-6M78.00,29.4v6M78.0,497.30h6M670.2,497.30h-6M137.40,497.3v-6M137.40,29.4v6M78.0,450.51h6M670.2,450.51h-6M196.10,497.3v-6M196.10,29.4v6M78.0,403.72h6M670.2,403.72h-6M256.00,497.3v-6M256.00,29.4v6M78.0,356.93h6M670.2,356.93h-6M314.90,497.3v-6M314.90,29.4v6M78.0,310.14h6M670.2,310.14h-6M373.40,497.3v-6M373.40,29.4v6M78.0,263.35h6M670.2,263.35h-6M433.20,497.3v-6M433.20,29.4v6M78.0,216.56h6M670.2,216.56h-6M492.30,497.3v-6M492.30,29.4v6M78.0,169.77h6M670.2,169.77h-6M551.80,497.3v-6M551.80,29.4v6M78.0,122.98h6M670.2,122.98h-6M610.40,497.3v-6M610.40,29.4v6M78.0,76.19h6M670.2,76.19h-6M670.20,497.3v-6M670.20,29.4v6M78.0,29.40h6M670.2,29.40h-6" stroke="#262626" stroke-width="1.3" fill="none"/><rect x="78.0" y="29.4" width="592.2" height="467.90000000000003" stroke="#262626" stroke-width="1.5" fill="none"/><text transform="translate(78.50,522.30) scale(1.05,1)" font-size="17" text-anchor="middle">0</text><text transform="translate(137.90,522.30) scale(1.05,1)" font-size="17" text-anchor="middle">10</text><text transform="translate(196.60,522.30) scale(1.05,1)" font-size="17" text-anchor="middle">20</text><text transform="translate(256.50,522.30) scale(1.05,1)" font-size="17" text-anchor="middle">30</text><text transform="translate(315.40,522.30) scale(1.05,1)" font-size="17" text-anchor="middle">40</text><text transform="translate(373.90,522.30) scale(1.05,1)" font-size="17" text-anchor="middle">50</text><text transform="translate(433.70,522.30) scale(1.05,1)" font-size="17" text-anchor="middle">60</text><text transform="translate(492.80,522.30) scale(1.05,1)" font-size="17" text-anchor="middle">70</text><text transform="translate(552.30,522.30) scale(1.05,1)" font-size="17" text-anchor="middle">80</text><text transform="translate(610.90,522.30) scale(1.05,1)" font-size="17" text-anchor="middle">90</text><text transform="translate(670.70,522.30) scale(1.05,1)" font-size="17" text-anchor="middle">100</text><text transform="translate(70.90,505.50) scale(1.05,1)" font-size="17" text-anchor="end">0</text><text transform="translate(70.90,458.71) scale(1.05,1)" font-size="17" text-anchor="end">0.2</text><text transform="translate(70.90,411.92) scale(1.05,1)" font-size="17" text-anchor="end">0.4</text><text transform="translate(70.90,365.13) scale(1.05,1)" font-size="17" text-anchor="end">0.6</text><text transform="translate(70.90,318.34) scale(1.05,1)" font-size="17" text-anchor="end">0.8</text><text transform="translate(70.90,271.55) scale(1.05,1)" font-size="17" text-anchor="end">1</text><text transform="translate(70.90,224.76) scale(1.05,1)" font-size="17" text-anchor="end">1.2</text><text transform="translate(70.90,177.97) scale(1.05,1)" font-size="17" text-anchor="end">1.4</text><text transform="translate(70.90,131.18) scale(1.05,1)" font-size="17" text-anchor="end">1.6</text><text transform="translate(70.90,84.39) scale(1.05,1)" font-size="17" text-anchor="end">1.8</text><text transform="translate(70.90,37.60) scale(1.05,1)" font-size="17" text-anchor="end">2</text><text transform="translate(80.50,28.30) scale(0.85,1)" font-size="21">×</text><text transform="translate(95.30,25.50) scale(0.95,1)" font-size="18">10</text><text transform="translate(114.50,16.60)" font-size="14">6</text><text transform="translate(373.30,550.30) scale(1.14,1)" font-size="18" text-anchor="middle">Time (days)</text><text transform="translate(26.3,262.8) rotate(-90) scale(1.139,1)" font-size="18" text-anchor="middle">Comparision of I<tspan font-size="14" dy="-9.3" dx="0.5">TC</tspan><tspan dy="9.3"> for k</tspan><tspan font-size="12.5" dy="9" dx="1">1</tspan><tspan dy="-9" dx="0.5"> and k</tspan><tspan font-size="12.5" dy="9" dx="1">2</tspan></text><rect x="289" y="295" width="204" height="184" fill="#fff" stroke="#262626" stroke-width="1.3"/><path d="M299,313.00H356" stroke="#0072BD" stroke-width="1.5"/><text transform="translate(360.80,317.00)" font-size="16">k</text><text transform="translate(369.60,325.20)" font-size="11">1</text><text transform="translate(376.50,317.00)" font-size="16">=0.90,</text><text transform="translate(427.30,317.00)" font-size="16">k</text><text transform="translate(436.20,325.20)" font-size="11">2</text><text transform="translate(445.00,317.00)" font-size="16">=0.90</text><path d="M299,342.60H356" stroke="#D95319" stroke-width="1.5"/><text transform="translate(360.80,346.60)" font-size="16">k</text><text transform="translate(369.60,354.80)" font-size="11">1</text><text transform="translate(376.50,346.60)" font-size="16">=0.92,</text><text transform="translate(427.30,346.60)" font-size="16">k</text><text transform="translate(436.20,354.80)" font-size="11">2</text><text transform="translate(445.00,346.60)" font-size="16">=0.92</text><path d="M299,372.20H356" stroke="#EDB120" stroke-width="1.5"/><text transform="translate(360.80,376.20)" font-size="16">k</text><text transform="translate(369.60,384.40)" font-size="11">1</text><text transform="translate(376.50,376.20)" font-size="16">=0.94,</text><text transform="translate(427.30,376.20)" font-size="16">k</text><text transform="translate(436.20,384.40)" font-size="11">2</text><text transform="translate(445.00,376.20)" font-size="16">=0.94</text><path d="M299,401.80H356" stroke="#7E2F8E" stroke-width="1.5"/><text transform="translate(360.80,405.80)" font-size="16">k</text><text transform="translate(369.60,414.00)" font-size="11">1</text><text transform="translate(376.50,405.80)" font-size="16">=0.96,</text><text transform="translate(427.30,405.80)" font-size="16">k</text><text transform="translate(436.20,414.00)" font-size="11">2</text><text transform="translate(445.00,405.80)" font-size="16">=0.96</text><path d="M299,431.40H356" stroke="#77AC30" stroke-width="1.5"/><text transform="translate(360.80,435.40)" font-size="16">k</text><text transform="translate(369.60,443.60)" font-size="11">1</text><text transform="translate(376.50,435.40)" font-size="16">=0.98,</text><text transform="translate(427.30,435.40)" font-size="16">k</text><text transform="translate(436.20,443.60)" font-size="11">2</text><text transform="translate(445.00,435.40)" font-size="16">=0.98</text><path d="M299,461.00H356" stroke="#4DBEEE" stroke-width="1.5"/><text transform="translate(360.80,465.00)" font-size="16">k</text><text transform="translate(369.60,473.20)" font-size="11">1</text><text transform="translate(377.40,465.00)" font-size="16">=1.0,</text><text transform="translate(418.00,465.00)" font-size="16">k</text><text transform="translate(426.20,473.20)" font-size="11">2</text><text transform="translate(435.10,465.00)" font-size="16">=1.0</text></svg></body></html>
